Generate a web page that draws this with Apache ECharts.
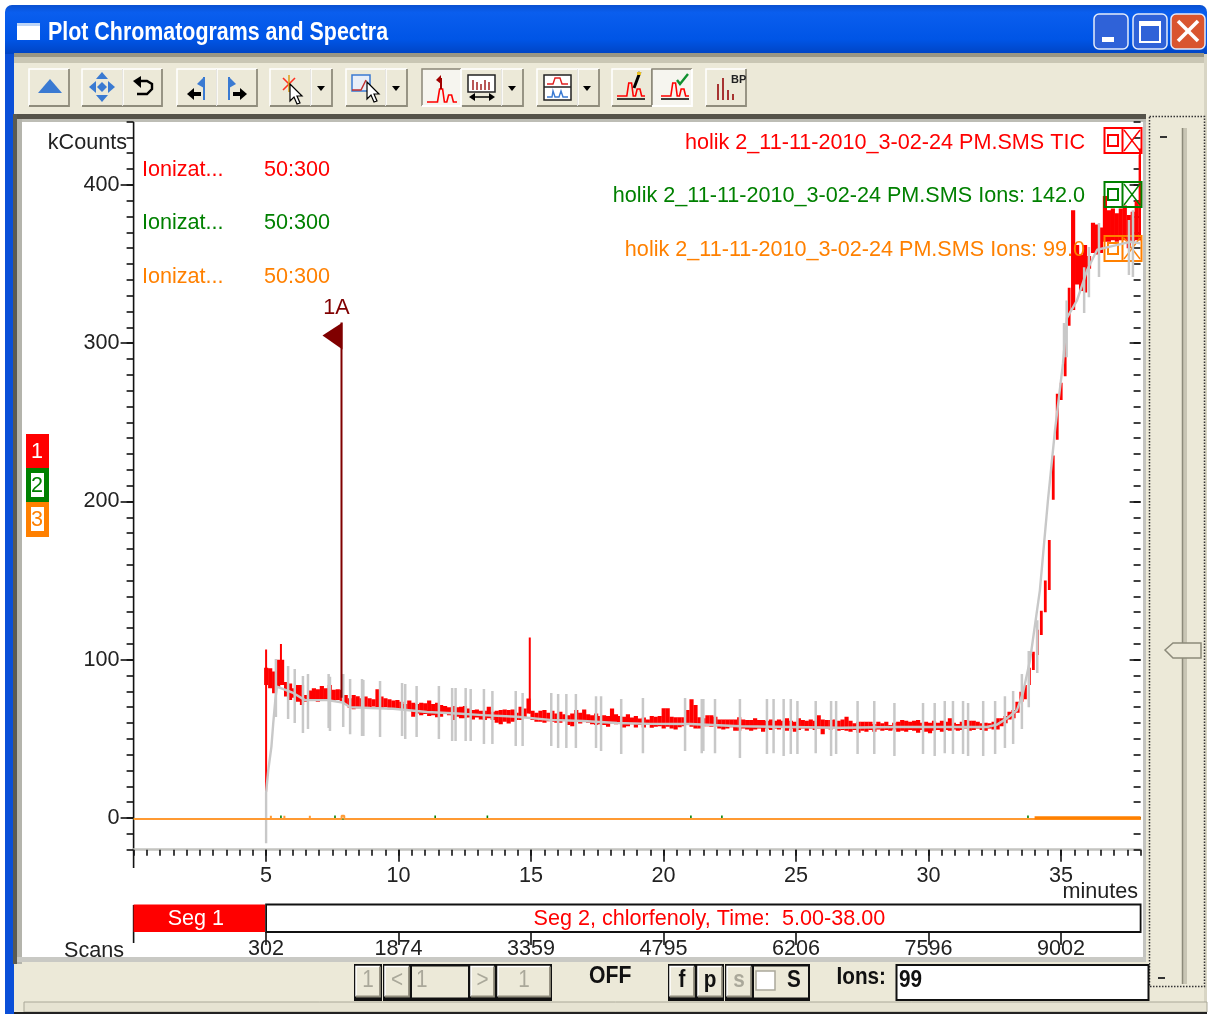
<!DOCTYPE html>
<html><head><meta charset="utf-8">
<style>html,body{margin:0;padding:0;background:#fff}#c{width:1210px;height:1014px}</style>
<script src="https://cdn.jsdelivr.net/npm/echarts@6/dist/echarts.min.js"></script></head>
<body><div id="c"></div>
<script>
// ---- chart data (minutes, kCounts) ----
var ticTimes=[5,5.15,5.3,5.45,5.6,5.75,5.9,6.05,6.2,6.35,
6.5,6.65,6.8,6.95,7.1,7.25,7.4,7.55,7.7,7.85,
8,8.15,8.3,8.45,8.6,8.75,8.9,9.05,9.2,9.35,
9.5,9.65,9.8,9.95,10.1,10.25,10.4,10.55,10.7,10.85,
11,11.15,11.3,11.45,11.6,11.75,11.9,12.05,12.2,12.35,
12.5,12.65,12.8,12.95,13.1,13.25,13.4,13.55,13.7,13.85,
14,14.15,14.3,14.45,14.6,14.75,14.9,15.05,15.2,15.35,
15.5,15.65,15.8,15.95,16.1,16.25,16.4,16.55,16.7,16.85,
17,17.15,17.3,17.45,17.6,17.75,17.9,18.05,18.2,18.35,
18.5,18.65,18.8,18.95,19.1,19.25,19.4,19.55,19.7,19.85,
20,20.15,20.3,20.45,20.6,20.75,20.9,21.05,21.2,21.35,
21.5,21.65,21.8,21.95,22.1,22.25,22.4,22.55,22.7,22.85,
23,23.15,23.3,23.45,23.6,23.75,23.9,24.05,24.2,24.35,
24.5,24.65,24.8,24.95,25.1,25.25,25.4,25.55,25.7,25.85,
26,26.15,26.3,26.45,26.6,26.75,26.9,27.05,27.2,27.35,
27.5,27.65,27.8,27.95,28.1,28.25,28.4,28.55,28.7,28.85,
29,29.15,29.3,29.45,29.6,29.75,29.9,30.05,30.2,30.35,
30.5,30.65,30.8,30.95,31.1,31.25,31.4,31.55,31.7,31.85,
32,32.15,32.3,32.45,32.6,32.75,32.9,33.05,33.2,33.35,
33.5,33.65,33.8,33.95,34.1,34.25,34.4,34.55,34.7,34.85,
35,35.15,35.3,35.45,35.6,35.75,35.9,36.05,36.2,36.35,
36.5,36.65,36.8,36.95,37.1,37.25,37.4,37.55,37.7,37.85,38];
var ticHigh=[95,94.6,92.5,100,100,86,85,82,84,84,
77.7,80.5,82,81.3,83.4,82,84,81,81.3,81,
77.7,75.6,77.7,77,75.6,76.7,75.6,75,81.3,76.7,
75.6,75,74.2,74.6,73.5,72,74.2,72.9,72,72.9,
72.5,74.2,72,72.9,71.4,70.8,70,70.8,70,70.3,
70.7,69.2,68.2,68.6,67.8,67.8,70.3,67.1,67.8,68.2,
68.6,68.2,68.6,66.5,70.3,69.2,75.5,67.8,66.5,67.8,
68.2,66.5,67.8,66,67.1,65.6,65,66,68.2,66.5,
68.6,65.6,65,66,64.4,65,64.4,69.2,65.6,64.4,
64,65.6,63.5,64.4,62.9,63.5,62.3,64.4,64,64.4,
69.3,69.3,64,63.6,63.6,63.6,68.2,75,71.4,63.6,
63,65,65,64,62.3,62.3,62.3,62.3,62.3,63.6,
62.3,61.9,61.9,63,61.9,61.9,61.5,62.3,61.5,62.3,
61.5,63,61.5,60.8,63,61.9,61.5,62.3,61.5,65,
62.3,61.9,61.9,62.3,61.5,62.3,64,61.5,59.8,60.8,
60.8,60.8,60.8,59.4,60.8,59.8,60.8,58.7,60.2,60.8,
61.9,61.5,60.8,61.5,61.9,60.2,60.8,60.2,61.5,60.2,
61.5,60.8,63,60.2,59.4,60.8,61.9,61.5,61.5,60.8,
59.8,60.2,59.8,60.8,63,63,64.4,67.2,68.2,73.5,
79.8,84,95,105,119,131,150,175.6,229,268,
275,306,335,384,362,356,362,355,376,375,
373,393,384,385,382,385,387,381,383,390,419];
var ticLow=[84,82,78.8,83,84,76.7,74.6,76,73.5,71.4,
73.5,74.6,74,73.5,74.6,75,74,74.2,74.6,72.9,
71.4,69.7,68.7,69.3,70,69.3,69.3,70.4,70,69.3,
70,68.7,69.3,68.3,68.7,67.8,68.3,64,66,65,
65.7,64.5,65,63.6,64,65.7,65,62,64,63,
63,63.5,62.3,63.5,62.3,61.9,63,61.9,60.2,59.3,
60.8,59.7,60.8,61.9,61.9,63.5,66,61.9,60.8,60.8,
60.2,61.2,60.8,60.2,60.2,61.9,58.7,58,60.8,59.7,
60.8,60.2,59.3,58.7,59.3,58.7,57.6,59.7,59.3,59.7,
57.2,58,59.3,57.2,58.7,57.2,59.3,57,57.7,58,
56.6,57.7,56.6,56,57.3,58,58.7,57.7,56.6,56.6,
58,58,57.7,58,56.6,56,56.6,57.3,55.2,55.2,
56.6,56,55.2,56,56.6,54.5,56.6,55.6,56.6,56,
57.3,55.2,56.6,54.5,55.6,56.6,55.2,56.6,55.6,56.6,
53,56.6,56,56.6,55.2,55.6,55.2,54.5,55.6,53.9,
55.2,54.5,55.6,54.5,56,55.2,55.6,55.2,56,54.5,
55.2,54.5,55.6,55.2,53.9,55.6,54.5,53.5,55.2,55.6,
54.5,55.6,55.2,56,55.2,55.6,56.6,55.2,55.6,56.6,
55.6,55.2,56.6,56,56,58,59.8,62.3,63,66.5,
73.5,75,84,93.5,103,115.6,130,144,201,239,
264,279,311,321,337,333,332,347,357,356,
357,364,364,365,364,365,365,360,364,365,365];
var ticSpikeTimes=[5,5.56,14.95,37.98];
var ticSpikeHigh=[106.5,110,114,423];
var ticSpikeLow=[16.6,85,66,365];

var grayTimes=[5,5,5.08,5.2,5.27,5.35,5.41,6.02,6.47,7.3,7.9,8.17,8.92,9.79,11.07,12.2,13.18,14.47,15.71,16.96,18.24,19.49,21,22.89,24.77,26.66,28.8,31.3,32.2,32.58,32.96,33.33,33.56,33.83,34.2,34.5,34.77,35.07,35.22,35.6,35.98,36.36,36.85,37.6,38];
var grayValues=[-16,16,30,45,60,75,83,79,74.5,74.5,73,70,69.5,69,67,66,65,64,62,61.3,60,59.5,59.4,58,57.5,57,57.5,57.5,57.5,59,63,68,79,100,144,200,245,287,316,327,346,359,361,364,363];
var graySpikeTimes=[5.37,5.83,6.08,6.39,6.58,7.36,7.41,7.91,8.17,8.62,8.67,9.3,10.13,10.25,10.68,11.52,12.02,12.15,12.53,12.72,13.22,13.54,14.42,14.68,15.76,16.02,16.33,16.69,17.45,17.64,18.4,19.22,20.81,21.44,21.5,21.94,22.88,23.9,24.15,24.53,24.8,25.05,25.74,26.32,26.51,27.32,27.95,28.71,29.79,30.23,30.61,30.92,31.3,31.49,32.06,32.51,32.88,33.19,33.52,33.78,34.1,35.11,35.21,35.87,36.05,36.43,37.56,37.71];
var graySpikeHigh=[100.4,96,94.1,89.7,91,91,89.3,91,87.8,87.8,87.2,86.5,85.3,84.6,83.4,83.4,82.1,82.1,82.1,81.5,81.5,80.2,80.2,79,79,78.3,78.3,78.3,77,77,75.2,75.8,75.8,75.2,75.2,75.2,75.2,75.2,75.2,75.2,75.2,73.9,73.9,73.9,73.9,73.9,73.9,72.6,72.6,72.6,73.9,73.9,73.9,72.6,73.9,73.9,77,80.2,91,105.5,125,312.7,327,348,360.7,375.9,377.8,384];
var graySpikeLow=[63.8,62.5,60,53.7,56.2,56.9,55,57.5,53,51.8,51.8,51.2,51.8,49.9,51.2,49.9,48.6,48.6,48.6,48.6,46.7,46.7,45.5,45.5,45.5,44.2,44.2,44.2,44.2,42.3,40.4,41,42.3,41,42.3,41,37.9,40.4,41,39.2,40.4,40.4,41,39.2,40.4,40.4,40.4,39.2,40.4,39.2,41,40.4,40.4,39.2,39.2,40.4,44.2,46.7,56.2,70,91.6,291,291,319,329,341.8,343,341.8];

var greenTimes=[0,5.56,5.56,5.56,7.6,7.6,7.6,11.38,11.38,11.38,13.35,13.35,13.35,21.03,21.03,21.03,22.2,22.2,22.2,33.75,33.75,33.75,38];
var greenValues=[-0.6,-0.6,1.6,-0.6,-0.6,1.6,-0.6,-0.6,1.6,-0.6,-0.6,1.6,-0.6,-0.6,1.6,-0.6,-0.6,1.6,-0.6,-0.6,1.6,-0.6,-0.6];
var orangeTimes=[0,5.18,5.18,5.18,5.69,5.69,5.69,6.65,6.65,6.65,7.85,7.85,7.95,7.95,34,38];
var orangeValues=[-0.6,-0.6,1.4,-0.6,-0.6,1.4,-0.6,-0.6,1.4,-0.6,-0.6,1.4,1.4,-0.6,-0.6,-0.6];
var orangeLateTimes=[34,38];
var orangeLateValues=[0.1,0.1];

var peakTime=[7.845];
var peakTop=[313];
var peakBase=[76];
var peakName=['1A'];

var yMinorMin=-20, yMax=440, xMax=38;
var rampStart=33.6, rampEnd=35.3;
var yMajorTicks=[0,100,200,300,400];
var xMajorTicks=[5,10,15,20,25,30,35];
var scanTicks=[5,10,15,20,25,30,35];
var scanLabels=['302','1874','3359','4795','6206','7596','9002'];
var segStarts=[0,5];
var segEnds=[5,38];
var segNames=['Seg 1','Seg 2, chlorfenoly, Time:  5.00-38.00'];

var traceNames=['holik 2_11-11-2010_3-02-24 PM.SMS TIC','holik 2_11-11-2010_3-02-24 PM.SMS Ions: 142.0','holik 2_11-11-2010_3-02-24 PM.SMS Ions: 99.0'];
var traceColors=['#ff0000','#008000','#ff8000'];

// ---- helpers for the window chrome ----
var FF='"Liberation Sans",Arial,sans-serif';
var G=[];
function R(x,y,w,h,fill,o){o=o||{};G.push({type:'rect',z:o.z||0,shape:{x:x,y:y,width:w,height:h,r:o.r||0},style:{fill:fill,stroke:o.stroke||null,lineWidth:o.lw||1}});}
function L(pts,c,w,o){o=o||{};G.push({type:'polyline',z:o.z||0,shape:{points:pts},style:{stroke:c,lineWidth:w||1,fill:null,lineDash:o.dash||null}});}
function P(pts,c,o){o=o||{};G.push({type:'polygon',z:o.z||0,shape:{points:pts},style:{fill:c,stroke:o.stroke||null,lineWidth:o.lw||1}});}
function T(s,x,y,c,font,al,z,sx){G.push({type:'text',z:z||1,x:x,y:y,scaleX:sx||1,style:{text:s,fill:c,font:font,textAlign:al||'left',textVerticalAlign:'middle',verticalAlign:'middle'}});}
function btn(x,y,w,h,pressed){
  R(x,y,w,h,pressed?'#f6f5ef':'#ece9d8');
  L([[x,y+h],[x,y],[x+w,y]],pressed?'#8a8778':'#ffffff',1.5);
  L([[x,y+h],[x+w,y+h],[x+w,y]],pressed?'#ffffff':'#8f8c7c',1.8);
}
function cursor(x,y){P([[x,y],[x,y+17],[x+4,y+13],[x+7,y+20],[x+10,y+19],[x+7,y+12],[x+12,y+12]],'#fff',{stroke:'#000',lw:1.2});}
function peak(x,y,w,c){L([[x,y],[x+w*.35,y],[x+w*.42,y-13],[x+w*.52,y-13],[x+w*.58,y],[x+w*.66,y],[x+w*.72,y-7],[x+w*.82,y-7],[x+w*.88,y],[x+w,y]],c,1.6);}

// window frame
R(5,5,1202,1009,'#ece9d8',{r:[7,7,0,0]});
G.push({type:'rect',z:0,shape:{x:5,y:5,width:1202,height:49,r:[7,7,0,0]},style:{fill:new echarts.graphic.LinearGradient(0,0,0,1,[{offset:0,color:'#0a50d0'},{offset:.15,color:'#0a5eee'},{offset:.7,color:'#0055e6'},{offset:1,color:'#0044c4'}])}});
R(5,54,9,960,'#0a4fd8');
R(1204,54,3,960,'#d8d5c4');
R(14,53,1190,4,'#9a9684'); R(14,57,1190,6,'#c9c6b4');
// title
R(17,23,23,17,'#ffffff'); R(17,23,23,3,'#bcd4f6');
T('Plot Chromatograms and Spectra',48,33.5,'#ffffff','bold 25px '+FF,'left',1,0.856);
// caption buttons
[[1094,'#2f62d8'],[1133,'#2f62d8'],[1171,'#d9552f']].forEach(function(b){
  G.push({type:'rect',z:0,shape:{x:b[0],y:14,width:34,height:35,r:5},style:{fill:b[1],stroke:'#e4ecfa',lineWidth:1.5}});});
R(1102,37,12,5,'#ffffff');
R(1140,22,20,20,null,{stroke:'#ffffff',lw:2}); R(1140,22,20,4,'#ffffff');
L([[1178,21],[1198,41]],'#fff',3.5); L([[1198,21],[1178,41]],'#fff',3.5);
// toolbar buttons
var bY=69,bH=37;
[[29,40],[82,41],[123,39],[177,40],[217,40],[270,41],[311,21],[346,40],[386,21],[461,41],[502,21],[537,41],[578,21],[612,40],[706,40]].forEach(function(b){btn(b[0],bY,b[1],bH,false);});
btn(422,bY,39,bH,true); btn(652,bY,40,bH,true);
[321,396,512,587].forEach(function(x){P([[x-4,86],[x+4,86],[x,91]],'#000');});
var blue='#3a7ad2';
P([[38,93],[62,93],[50,79]],blue);
P([[102,72],[108,79],[96,79]],blue);P([[102,102],[108,95],[96,95]],blue);P([[89,87],[96,81],[96,93]],blue);P([[115,87],[108,81],[108,93]],blue);P([[102,82],[107,87],[102,92],[97,87]],blue);
L([[137,94],[147,94],[152,89],[152,84],[147,81],[138,81]],'#000',2.4);P([[133,81],[141,76],[141,88]],'#000');
L([[204,77],[204,100]],blue,2);P([[204,77],[197,84],[204,88]],blue);P([[187,94],[194,88],[194,100]],'#000');R(194,92,7,4,'#000');
L([[229,77],[229,100]],blue,2);P([[229,77],[236,84],[229,88]],blue);P([[247,94],[240,88],[240,100]],'#000');R(233,92,7,4,'#000');
L([[283,78],[295,90]],'#ff3020',1.6);L([[295,78],[283,90]],'#ff3020',1.6);L([[289,75],[289,92]],'#e0a020',1.6);cursor(290,84);
R(352,75,18,16,'#e8eef8',{stroke:'#3a7ad2',lw:1.5});L([[352,90],[361,90],[366,80]],'#c03030',1.5);cursor(367,82);
peak(427,102,30,'#ff0000');L([[441,78],[441,89]],'#a00000',2);P([[441,75],[436,80],[441,84]],'#a00000');
R(468,75,27,17,'#fff',{stroke:'#222',lw:1.5});[473,477,481,485,489].forEach(function(x,i){L([[x,90],[x,80+i%3*2]],'#a02020',1.5);});
L([[473,97],[491,97]],'#000',1.5);P([[469,97],[475,93],[475,101]],'#000');P([[495,97],[489,93],[489,101]],'#000');
R(544,75,27,25,'#fff',{stroke:'#222',lw:1.5});L([[544,87],[571,87]],'#222',1.5);L([[547,84],[553,84],[555,78],[560,78],[562,84],[568,84]],'#e02020',1.4);L([[547,97],[552,97],[553,91],[555,97],[559,97],[561,91],[563,97],[568,97]],blue,1.4);
peak(617,96,28,'#ff0000');L([[617,99],[645,99]],'#000',1.5);L([[640,72],[634,88]],'#000',3);R(637,72,4,3,'#e8c020');
peak(661,96,28,'#ff0000');L([[661,99],[689,99]],'#000',1.5);L([[677,80],[680,84],[688,74]],'#109030',2.4);
[718,723,728,733].forEach(function(x,i){L([[x,100],[x,[84,78,90,94][i]]],'#a02020',1.8);});
T('BP',731,80,'#222','bold 11px '+FF);
// plot well
R(14,114,1132,5,'#55534a');R(14,119,1132,3,'#bdbdb5');
R(13,114,4,850,'#5a5a52');R(17,119,5,845,'#b4b4ac');
R(22,122,1121,835,'#ffffff');
R(1143,122,3,838,'#c4c4c0');
R(17,957,1129,5,'#c9c9c4');
// scale slider panel
R(1149,117,56,868,'#ece9d8');
R(1149.5,116.5,55,870,null,{stroke:'#333',lw:1.5});
G[G.length-1].style.lineDash=[1.5,1.5];
L([[1160,137],[1167,137]],'#333',2);L([[1158,978],[1165,978]],'#333',2);
R(1182,128,5,856,'#c8c5b4');L([[1182.5,128],[1182.5,984]],'#8c8a7a',1.5);
P([[1165,650],[1173,643],[1201,643],[1201,658],[1173,658]],'#ece9d8',{stroke:'#8c8a7a',lw:1.5});
// curve tabs
R(26,434,23,34,'#ff0000');R(26,468,23,34,'#008000');R(26,502,23,35,'#ff8000');
R(31,473,13,24,'#ffffff');R(31,507,13,24,'#ffffff');
T('1',37,452,'#ffffff','21.6px '+FF,'center');T('2',37,486,'#008000','21.6px '+FF,'center');T('3',37,520,'#ff8000','21.6px '+FF,'center');
// y title, x title, Scans
T('kCounts',127,143,'#222','21.6px '+FF,'right');
T('minutes',1138,892,'#222','21.6px '+FF,'right');
T('Scans',124,951,'#222','21.6px '+FF,'right');
L([[133.6,122],[133.6,868]],'#111',1.6);
L([[133.6,905],[133.6,943]],'#111',1.6);
// trace info
var infoY=[170,223,277], nameY=[143,196,250], boxY=[128,182,236];
traceColors.forEach(function(c,i){
  T('Ionizat...',142,infoY[i],c,'21.6px '+FF);
  T('50:300',264,infoY[i],c,'21.6px '+FF);
  T(traceNames[i],1085,nameY[i],c,'21.6px '+FF,'right',3);
  var y=boxY[i];
  R(1104.5,y,37,25,null,{stroke:c,lw:2,z:3});
  L([[1122.5,y],[1122.5,y+25]],c,2,{z:3});
  R(1108,y+7,10,11,null,{stroke:c,lw:2,z:3});
  L([[1124,y+2],[1140,y+23]],c,1.4,{z:3});L([[1140,y+2],[1124,y+23]],c,1.4,{z:3});
});
// bottom bar
R(22,962,1127,38,'#ece9d8');
var BF='bold 23px '+FF, GF='23px '+FF;
function dbtn(x,w,s,c,bold){R(x-2,964,w+4,37,'#111');btn(x,966.5,w,30,false);
  T(s,x+w/2,981,c,bold?BF:GF,'center',1,0.9);}
dbtn(356,24,'1','#aaa89a');dbtn(385,24,'<','#aaa89a');R(410,964,60,37,'#111');R(412,966.5,56,31,'#ece9d8');T('1',416,981,'#aaa89a',GF,'left',1,0.9);
dbtn(471,23,'>','#aaa89a');dbtn(498,52,'1','#aaa89a');
T('OFF',589,977,'#111',BF,'left',1,0.92);
dbtn(670,24,'f','#111',true);dbtn(698,24,'p','#111',true);dbtn(727,24,'s','#aaa89a',true);
R(752,964,58,37,'#111');R(754,966.5,54,31,'#ece9d8');R(756,971,19,19,'#ffffff',{stroke:'#aaa89a',lw:1.5});T('S',794,981,'#111',BF,'center',1,0.9);
T('Ions:',836.5,978,'#111',BF,'left',1,0.9);
R(896.5,965,252,35,'#ffffff',{stroke:'#111',lw:2});
T('99',899,981,'#111',BF,'left',1,0.9);
R(24,1002,1183,10,'#e6e3d2',{stroke:'#aaa898',lw:1});L([[14,1013],[1207,1013]],'#222',2);

// ---- custom series renderers (positions come through the axes) ----
function bandItem(params,api){
  var t=api.value(0);
  var a=api.coord([t,api.value(1)]),b=api.coord([t,api.value(2)]);
  var w=api.size([0.15,0])[0];
  if(t>=rampStart&&t<=rampEnd){w=2.6;}
  return {type:'rect',shape:{x:a[0]-w/2,y:b[1],width:w+0.2,height:a[1]-b[1]},style:{fill:'#ff0000'}};
}
function stickItem(color,width){return function(params,api){
  var a=api.coord([api.value(0),api.value(1)]),b=api.coord([api.value(0),api.value(2)]);
  return {type:'line',shape:{x1:a[0],y1:a[1],x2:b[0],y2:b[1]},style:{stroke:color,lineWidth:width}};
};}
function peakItem(params,api){
  var a=api.coord([api.value(0),api.value(1)]),b=api.coord([api.value(0),api.value(2)]);
  var x=b[0],y=b[1];
  return {type:'group',children:[
    {type:'line',shape:{x1:x,y1:a[1],x2:x,y2:y},style:{stroke:'#800000',lineWidth:2}},
    {type:'polygon',shape:{points:[[x+1,y],[x+1,y+27],[x-19,y+13]]},style:{fill:'#800000'}},
    {type:'text',style:{text:peakName[params.dataIndex],x:x-5,y:y-14,fill:'#800000',font:'21.6px '+FF,textAlign:'center',textVerticalAlign:'middle',verticalAlign:'middle'}}
  ]};
}
function segItem(params,api){
  var a=api.coord([api.value(0),0]),b=api.coord([api.value(1),1]);
  var first=params.dataIndex===0;
  return {type:'group',children:[
    {type:'rect',shape:{x:a[0],y:b[1],width:b[0]-a[0]-(first?1:0),height:a[1]-b[1]},style:first?{fill:'#ff0000'}:{fill:'#ffffff',stroke:'#111',lineWidth:1.8}},
    {type:'text',style:{text:segNames[params.dataIndex],x:(a[0]+b[0])/2+(first?-4:6),y:(a[1]+b[1])/2+1,fill:first?'#ffffff':'#ff0000',font:'21.6px '+FF,textAlign:'center',textVerticalAlign:'middle',verticalAlign:'middle'}}
  ]};
}
function zip(x,y){return x.map(function(v,i){return [v,y[i]];});}
function zip3(x,a,b){return x.map(function(v,i){return [v,a[i],b[i]];});}

var tickStyle={color:'#111',width:1.6};
function yAxisBase(extra){return Object.assign({type:'value',gridIndex:0,position:'left',min:yMinorMin,max:yMax,splitLine:{show:false},axisLine:{show:false,onZero:false},axisLabel:{show:false},axisTick:{show:false}},extra);}
function xAxisBase(extra){return Object.assign({type:'value',gridIndex:0,min:0,max:xMax,position:'bottom',splitLine:{show:false},axisLine:{show:false,onZero:false},axisLabel:{show:false},axisTick:{show:false}},extra);}

var option={
  animation:false,
  backgroundColor:'#ffffff',
  graphic:{elements:G},
  grid:[{left:133.6,top:121.5,width:1007,height:728.2,containLabel:false},
        {left:133.6,top:904.5,width:1007,height:27.5,containLabel:false}],
  xAxis:[
    xAxisBase({interval:0.5,axisLine:{show:true,onZero:false,lineStyle:{color:'#c4c4c0',width:2.5}},axisTick:{show:true,length:6,lineStyle:tickStyle}}),
    xAxisBase({axisTick:{show:true,length:12,customValues:xMajorTicks,lineStyle:tickStyle},
      axisLabel:{show:true,customValues:xMajorTicks,margin:15,fontFamily:'Liberation Sans',fontSize:21.6,color:'#222'}}),
    xAxisBase({gridIndex:1,axisTick:{show:true,length:13,customValues:scanTicks,lineStyle:tickStyle},
      axisLabel:{show:true,customValues:scanTicks,margin:6,fontFamily:'Liberation Sans',fontSize:21.6,color:'#222',
        formatter:function(v){return scanLabels[scanTicks.indexOf(v)];}}})
  ],
  yAxis:[
    yAxisBase({interval:10,axisTick:{show:true,length:7,lineStyle:tickStyle}}),
    yAxisBase({axisTick:{show:true,length:13,customValues:yMajorTicks,lineStyle:tickStyle},
      axisLabel:{show:true,customValues:yMajorTicks,margin:14,fontFamily:'Liberation Sans',fontSize:21.6,color:'#222'}}),
    yAxisBase({interval:10,position:'right',offset:0,axisTick:{show:true,inside:true,length:7,lineStyle:tickStyle}}),
    yAxisBase({position:'right',offset:0,axisTick:{show:true,inside:true,length:11,customValues:yMajorTicks,lineStyle:tickStyle}}),
    {type:'value',gridIndex:1,min:0,max:1,show:false}
  ],
  series:[
    {name:'TIC',type:'custom',z:2,renderItem:bandItem,data:zip3(ticTimes,ticLow,ticHigh),encode:{x:0,y:[1,2]},clip:true,silent:true},
    {name:'TIC spikes',type:'custom',z:2,renderItem:stickItem('#ff0000',2),data:zip3(ticSpikeTimes,ticSpikeLow,ticSpikeHigh),encode:{x:0,y:[1,2]},clip:true,silent:true},
    {name:'Trace',type:'line',z:4,data:zip(grayTimes,grayValues),showSymbol:false,symbol:'none',lineStyle:{color:'#c8c8c8',width:2.4},silent:true},
    {name:'Trace spikes',type:'custom',z:4,renderItem:stickItem('#c8c8c8',2.5),data:zip3(graySpikeTimes,graySpikeLow,graySpikeHigh),encode:{x:0,y:[1,2]},clip:true,silent:true},
    {name:'Ions 142',type:'line',z:5,data:zip(greenTimes,greenValues),symbol:'none',lineStyle:{color:'#008000',width:1.6},silent:true},
    {name:'Ions 99',type:'line',z:6,data:zip(orangeTimes,orangeValues),symbol:'none',lineStyle:{color:'#ff9a33',width:2},silent:true},
    {name:'Ions 99 late',type:'line',z:6,data:zip(orangeLateTimes,orangeLateValues),symbol:'none',lineStyle:{color:'#ff8000',width:3.4},silent:true},
    {name:'Peak',type:'custom',z:7,renderItem:peakItem,data:zip3(peakTime,peakBase,peakTop),encode:{x:0,y:[1,2]},clip:false,silent:true},
    {name:'Segments',type:'custom',xAxisIndex:2,yAxisIndex:4,z:3,renderItem:segItem,data:zip(segStarts,segEnds),encode:{x:[0,1]},clip:false,silent:true}
  ]
};
var chart=echarts.init(document.getElementById('c'),null,{renderer:'canvas',width:1210,height:1014});
chart.setOption(option);
</script></body></html>
